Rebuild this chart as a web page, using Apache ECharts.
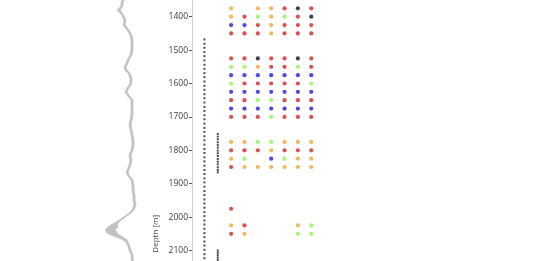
<!DOCTYPE html>
<html><head><meta charset="utf-8">
<script src="https://cdn.jsdelivr.net/npm/echarts@6/dist/echarts.min.js"></script>
<style>html,body{margin:0;padding:0;background:#fff;overflow:hidden;width:533px;height:261px}
#c{position:absolute;left:0;top:-200px;width:533px;height:1000px}</style>
</head><body><div id="c"></div>
<script>
// Depth tick range
const depthMin = 900, depthMax = 3200, depthStep = 100;

// Log curve (left track): depth and left/right envelope values
const curveDepth = [1350,1359,1368,1380,1392,1410,1425,1440,1455,1470,1485,1500,1515,1530,1539,1551,1560,1569,1584,1596,1605,1613,1625,1634,1643,1649,1664,1679,1694,1709,1724,1739,1754,1769,1784,1799,1814,1829,1844,1859,1868,1877,1889,1904,1919,1934,1949,1964,1979,1988,1994,2003,2015,2024,2030,2038,2047,2055,2060,2068,2075,2088,2100,2112,2123,2135];
const curveLeft = [64,62,62,54,62,68,66,74,80,82,82,82,80,74,72,68,70,76,80,80,78,74,70,74,78,82,82,82,82,80,78,80,82,84,84,82,78,80,78,74,72,76,82,84,84,86,86,88,84,78,72,64,52,42,36,30,34,44,54,66,72,76,78,82,82,84];
const curveRight = [68,66,66,60,66,72,70,78,84,86,86,86,84,78,76,72,74,80,84,84,82,78,74,78,82,86,86,86,86,84,82,84,86,88,88,86,82,84,82,78,76,80,86,88,88,90,90,92,88,82,76,68,58,54,56,50,54,60,66,74,76,80,82,86,86,88];

// Black sample columns
const sampleCol0 = [1468,1481,1493,1506,1518,1531,1544,1556,1569,1581,1594,1607,1619,1632,1644,1657,1670,1682,1695,1707,1720,1733,1745,1758,1770,1783,1796,1808,1821,1833,1846,1859,1871,1884,1896,1909,1922,1934,1947,1959,1972,1985,1997,2010,2022,2035,2048,2060,2073,2085,2098,2111,2123,2136];
const sampleCol1 = [1751,1759,1767,1776,1784,1792,1801,1809,1817,1826,1834,1842,1851,1859,1866,2100,2107,2114,2121,2128,2135,2142];

// Coloured classification grid (7 columns)
const dotDepths = [1375,1400,1425,1450,1525,1550,1575,1600,1625,1650,1675,1700,1775,1800,1825,1850,1975,2025,2050];
const dotClasses = [
 "O-OORKR",
 "ORGOGRK",
 "BBRORRR",
 "RRRORRR",
 "RRKRRKR",
 "GGORRGR",
 "BBBBBBB",
 "GRRRRRG",
 "BBBBBBB",
 "RRGGRRR",
 "BBBBBBB",
 "RRRGRRR",
 "OOGGOOO",
 "RRRORRR",
 "OG-BGOO",
 "ROOOOOO",
 "R------",
 "OR---OG",
 "RO---GG"
];
const classColors = {O:'#f2a535', R:'#d42424', B:'#1c1ce8', G:'#8cf25a', K:'#111111'};

const gridTop = 49.7, gridHeight = 768.2;
const chart = echarts.init(document.getElementById('c'), null, {renderer:'canvas'});

const dotSeries = Object.keys(classColors).map(k => {
  const data = [];
  dotDepths.forEach((d, r) => {
    for (let c = 0; c < 7; c++) if (dotClasses[r][c] === k) data.push([c + 2, d]);
  });
  return {type:'scatter', xAxisIndex:1, yAxisIndex:1, symbol:'circle', symbolSize:4.2,
    itemStyle:{color:classColors[k]}, data, silent:true, animation:false};
});

chart.setOption({
  animation:false,
  grid:[
    {left:90, width:50, top:gridTop, height:gridHeight},
    {left:192, width:132.6, top:gridTop, height:gridHeight}
  ],
  xAxis:[
    {gridIndex:0, type:'value', min:0, max:100, show:false},
    {gridIndex:1, type:'value', min:-0.93, max:9, show:false}
  ],
  yAxis:[
    {gridIndex:0, type:'value', min:depthMin, max:depthMax, inverse:true, show:false},
    {gridIndex:1, type:'value', min:depthMin, max:depthMax, inverse:true, interval:depthStep,
     name:'Depth [m]', nameLocation:'middle', nameGap:32, nameRotate:90,
     nameTextStyle:{fontFamily:'Open Sans', fontSize:8, color:'#444'},
     axisLine:{show:true, onZero:false, lineStyle:{color:'#cfcfcf', width:1}},
     axisTick:{show:true, length:3, lineStyle:{color:'#555', width:1}},
     axisLabel:{fontFamily:'Open Sans', fontSize:8.5, color:'#3a3a3a', margin:4, formatter:v => String(v)},
     splitLine:{show:false}}
  ],
  series:[
    {type:'custom', xAxisIndex:0, yAxisIndex:0, data:[0], silent:true,
     renderItem:function(params, api){
       const pts = [];
       for (let i = 0; i < curveDepth.length; i++) pts.push(api.coord([curveLeft[i], curveDepth[i]]));
       for (let i = curveDepth.length - 1; i >= 0; i--) pts.push(api.coord([curveRight[i], curveDepth[i]]));
       return {type:'polygon', shape:{points:pts}, style:{fill:'#c2c2c2', stroke:'#c2c2c2', lineWidth:0.8}};
     }},
    {type:'scatter', xAxisIndex:1, yAxisIndex:1, symbol:'rect', symbolSize:2,
     itemStyle:{color:'#222'}, data:sampleCol0.map(d => [0, d]), silent:true},
    {type:'scatter', xAxisIndex:1, yAxisIndex:1, symbol:'rect', symbolSize:2,
     itemStyle:{color:'#222'}, data:sampleCol1.map(d => [1, d]), silent:true}
  ].concat(dotSeries)
});
</script></body></html>
